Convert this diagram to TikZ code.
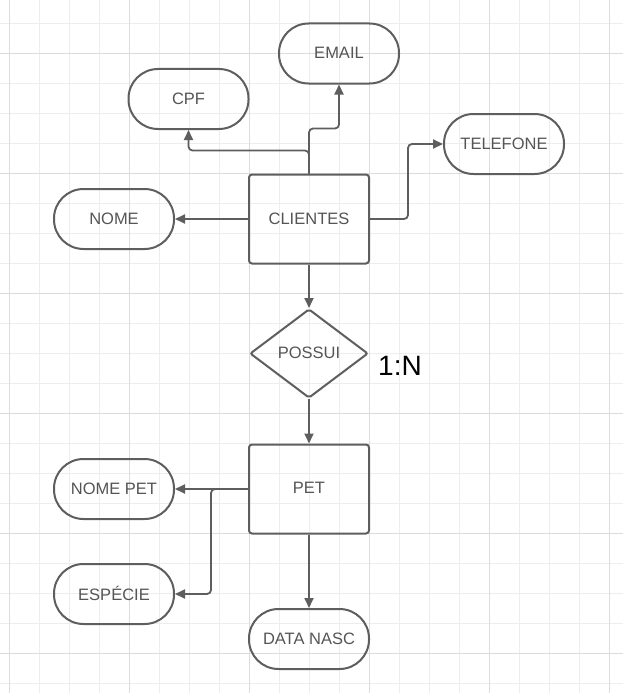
\documentclass[tikz,border=0pt]{standalone}
\usepackage{fontspec}
\setmainfont{Liberation Sans}
\usetikzlibrary{shapes.geometric,arrows.meta}
\definecolor{ln}{HTML}{5E5E5E}
\definecolor{tx}{HTML}{555555}
\definecolor{gmin}{HTML}{EDEDED}
\definecolor{gmaj}{HTML}{DCDCDC}
\begin{document}
\begin{tikzpicture}[x=1pt,y=-1pt,
  lbl/.style={text=tx,font=\fontsize{16.5}{19}\selectfont,text depth=1.5pt},
  ent/.style={lbl,draw=ln,line width=2pt,rounded corners=3pt,minimum width=120pt,minimum height=89pt,inner sep=0pt},
  attr/.style={lbl,draw=ln,line width=2pt,rounded corners=29.5pt,minimum width=120pt,minimum height=60pt,inner sep=0pt},
  rel/.style={lbl,draw=ln,line width=2pt,shape=diamond,rounded corners=2pt,minimum width=118pt,minimum height=89pt,inner sep=0pt},
  conn/.style={draw=ln,line width=1.8pt,-{Triangle[length=10pt,width=9pt]},rounded corners=4pt},
  gridmin/.style={draw=gmin,line width=1pt},
  gridmaj/.style={draw=gmaj,line width=1pt}]
\useasboundingbox (0,0) rectangle (623,693);
\fill[white] (0,0) rectangle (623,693);
% grid
\foreach \x in {39.5,69.5,...,609.5} \draw[gridmin] (\x,0) -- (\x,693);
\foreach \y in {23.5,53.5,...,690} \draw[gridmin] (0,\y) -- (623,\y);
\foreach \x in {9.5,129.5,...,609.5} \draw[gridmaj] (\x,0) -- (\x,693);
\foreach \y in {53.5,173.5,...,690} \draw[gridmaj] (0,\y) -- (623,\y);
% nodes
\node[attr] (email) at (339,53.5) {EMAIL};
\node[attr] (cpf) at (188.5,99) {CPF};
\node[attr] (tel) at (504,144) {TELEFONE};
\node[attr] (nome) at (114,219) {NOME};
\node[ent] (cli) at (309,219) {CLIENTES};
\node[rel] (possui) at (309,353.5) {POSSUI};
\node[font=\fontsize{28}{32}\selectfont,text=black] (card) at (400,366) {1:N};
\node[ent] (pet) at (309,489) {PET};
\node[attr] (nomepet) at (114,489) {NOME PET};
\node[attr] (esp) at (114,594) {ESPÉCIE};
\node[attr] (data) at (309,639) {DATA NASC};
% connectors
\draw[conn] (cli.north) -- ++(0,-23) -| (cpf.south);
\draw[conn] (cli.north) -- ++(0,-45) -| (email.south);
\draw[conn] (cli.east) -- ++(38,0) |- (tel.west);
\draw[conn] (cli.west) -- (nome.east);
\draw[conn] (cli.south) -- (possui.north);
\draw[conn] (possui.south) -- (pet.north);
\draw[conn] (pet.west) -- (nomepet.east);
\draw[conn] (pet.west) -- ++(-37,0) |- (esp.east);
\draw[conn] (pet.south) -- (data.north);
\end{tikzpicture}
\end{document}
